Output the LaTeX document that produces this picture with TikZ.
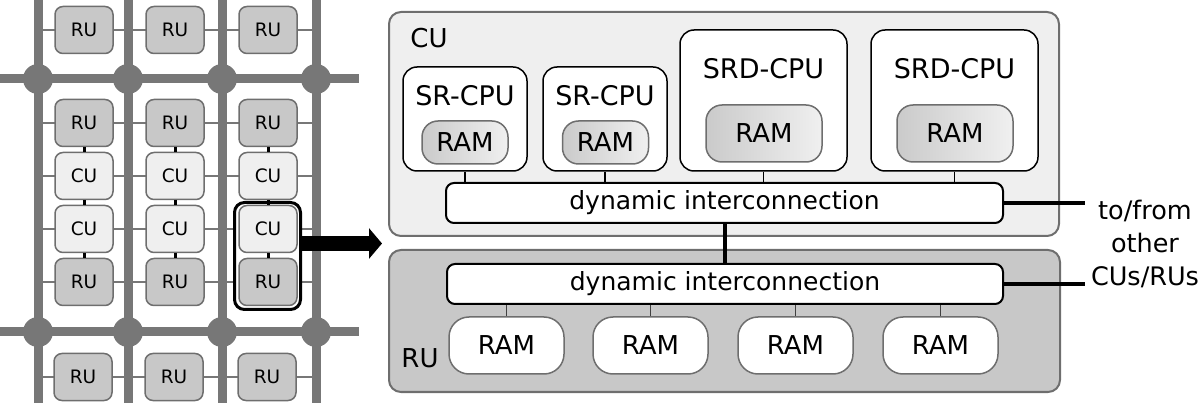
\documentclass[tikz,border=0pt]{standalone}
\usepackage{fontspec}
\setmainfont{DejaVu Sans}
\usetikzlibrary{arrows.meta,calc}
\definecolor{gridgray}{HTML}{777777}
\definecolor{bordergray}{HTML}{6E6E6E}
\definecolor{rufill}{HTML}{C8C8C8}
\definecolor{cufill}{HTML}{EFEFEF}
\definecolor{ramdark}{HTML}{CACACA}
\definecolor{ramlight}{HTML}{F0F0F0}
\tikzset{
  gridline/.style={gridgray, line width=9pt},
  gridjoint/.style={circle, fill=gridgray, minimum size=30pt, inner sep=0pt},
  thinlink/.style={gridgray, line width=1.5pt},
  blacklink/.style={black, line width=3.5pt},
  smallbox/.style={rectangle, rounded corners=8pt, draw=bordergray, line width=1.5pt,
    minimum width=58pt, minimum height=47pt, inner sep=0pt, font=\fontsize{18.5}{20}\selectfont},
  rubox/.style={smallbox, fill=rufill},
  cubox/.style={smallbox, fill=cufill},
  panel/.style={rectangle, rounded corners=12pt, draw=bordergray, line width=2pt, inner sep=0pt},
  cpubox/.style={rectangle, rounded corners=14pt, draw=black, line width=1.5pt, fill=white, inner sep=0pt},
  innerram/.style={rectangle, rounded corners=16pt, draw=bordergray, line width=1.5pt,
    left color=ramdark, right color=ramlight, inner sep=0pt, font=\fontsize{26}{30}\selectfont},
  dynbox/.style={rectangle, rounded corners=8pt, draw=black, line width=2pt, fill=white,
    minimum width=557pt, minimum height=40pt, inner sep=0pt, font=\fontsize{25}{30}\selectfont},
  ruram/.style={rectangle, rounded corners=20pt, draw=bordergray, line width=1.5pt, fill=white,
    minimum width=115pt, minimum height=57pt, inner sep=0pt, font=\fontsize{26}{30}\selectfont},
  biglabel/.style={inner sep=0pt, font=\fontsize{26}{30}\selectfont},
  cpulabel/.style={inner sep=0pt, font=\fontsize{27}{30}\selectfont},
}
\begin{document}
\begin{tikzpicture}[x=1pt,y=-1pt]
\useasboundingbox (0,0) rectangle (1200,403);
% ---------- left grid ----------
\foreach \yy in {30,123,176,229,282,377} \draw[thinlink] (38,\yy) -- (316,\yy);
\foreach \xx in {38,128,222,316} \draw[gridline] (\xx,0) -- (\xx,403);
\foreach \yy in {79,332} \draw[gridline] (0,\yy) -- (359,\yy);
\foreach \xx [count=\i] in {38,128,222,316} {
  \node[gridjoint] (ja\i) at (\xx,79) {};
  \node[gridjoint] (jb\i) at (\xx,332) {};
}
% highlight frame
\draw[white, line width=3pt, rounded corners=8pt] (237.5,205.5) rectangle (297.5,306.5);
\draw[black, line width=3pt, rounded corners=10pt] (234.5,202.5) rectangle (300.5,309.5);
\foreach \xx [count=\c] in {84,175,268} {
  \node[rubox] (r1c\c) at (\xx,30) {RU};
  \node[rubox] (r2c\c) at (\xx,123) {RU};
  \node[cubox] (r3c\c) at (\xx,176) {CU};
  \node[cubox] (r4c\c) at (\xx,229) {CU};
  \node[rubox] (r5c\c) at (\xx,282) {RU};
  \node[rubox] (r6c\c) at (\xx-1,377) {RU};
  \draw[black, line width=3pt] (r2c\c.south) -- (r3c\c.north);
  \draw[black, line width=3pt] (r3c\c.south) -- (r4c\c.north);
  \draw[black, line width=3pt] (r4c\c.south) -- (r5c\c.north);
}
\coordinate (hl) at (301,243.5);
\coordinate (arrowend) at (382,243.5);
\draw[black, line width=15pt, -{Triangle[length=13pt, width=30pt]}] (hl) -- (arrowend);
% ---------- right: CU panel ----------
\node[panel, fill=cufill, minimum width=670pt, minimum height=224pt] (cup) at (724,124) {};
\node[panel, fill=rufill, minimum width=671pt, minimum height=142pt] (rup) at (724.5,321) {};
\node[biglabel] (culabel) at (429,38) {CU};
\node[biglabel] (rulabel) at (420,358) {RU};
% CPUs
\node[cpubox, minimum width=124pt, minimum height=104pt] (sr1) at (465,119) {};
\node[cpubox, minimum width=124pt, minimum height=104pt] (sr2) at (605,119) {};
\node[cpubox, minimum width=167pt, minimum height=141pt] (srd1) at (763.5,100.5) {};
\node[cpubox, minimum width=167pt, minimum height=141pt] (srd2) at (954.5,100.5) {};
\node[cpulabel] (sr1t) at (465,96) {SR-CPU};
\node[cpulabel] (sr2t) at (605,96) {SR-CPU};
\node[cpulabel] (srd1t) at (763.5,69) {SRD-CPU};
\node[cpulabel] (srd2t) at (954.5,69) {SRD-CPU};
\node[innerram, minimum width=86pt, minimum height=43pt] (sr1ram) at (465,142.5) {RAM};
\node[innerram, minimum width=86pt, minimum height=43pt] (sr2ram) at (605.5,142.5) {RAM};
\node[innerram, minimum width=116pt, minimum height=57pt] (srd1ram) at (764,133.5) {RAM};
\node[innerram, minimum width=116pt, minimum height=57pt] (srd2ram) at (955,133.5) {RAM};
\node[dynbox] (cudyn) at (724.5,203) {dynamic interconnection};
\foreach \n in {sr1,sr2,srd1,srd2}
  \draw[black, line width=1.2pt] (\n.south) -- (\n.south |- cudyn.north);
% ---------- RU panel ----------
\node[dynbox, minimum width=556pt] (rudyn) at (725,284) {dynamic interconnection};
\foreach \xx [count=\i] in {506.5,650.5,795.5,940.5} {
  \node[ruram] (ram\i) at (\xx,345.5) {RAM};
  \draw[black!75, line width=1.5pt] (ram\i.north) -- (ram\i.north |- rudyn.south);
}
\draw[blacklink] (cudyn.south -| 725,0) -- (rudyn.north -| 725,0);
\coordinate (outcu) at (1085,203);
\coordinate (outru) at (1085,284);
\draw[blacklink] (cudyn.east) -- (outcu);
\draw[blacklink] (rudyn.east) -- (outru);
\node[inner sep=0pt, align=center, font=\fontsize{25.5}{33}\selectfont] (ext) at (1145,244) {to/from\\other\\CUs/RUs};
\end{tikzpicture}
\end{document}
